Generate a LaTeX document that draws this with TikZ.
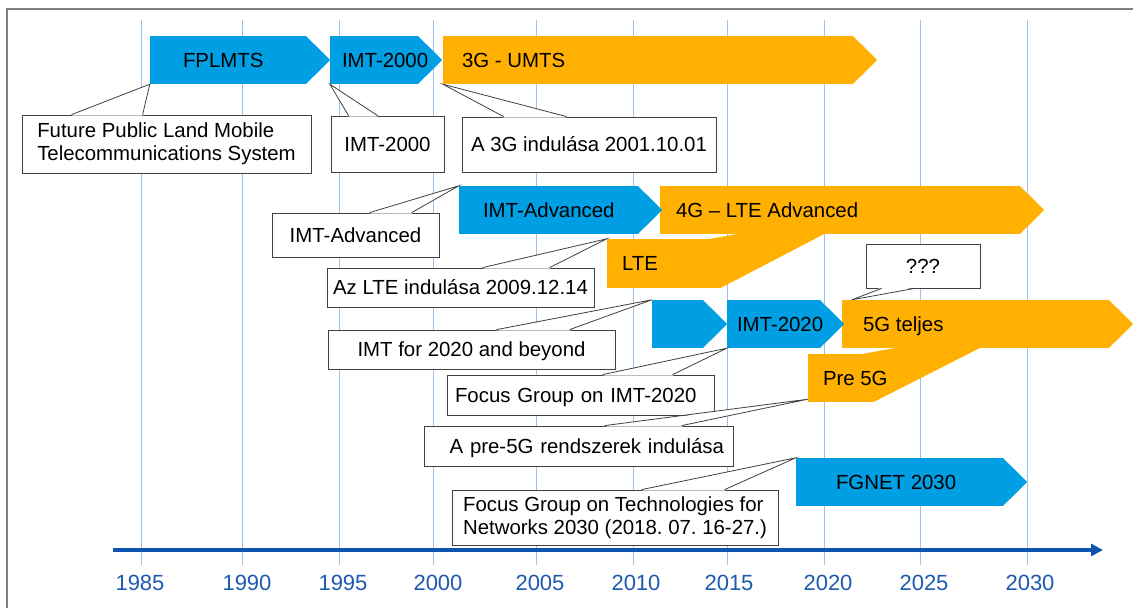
\documentclass[tikz,border=0pt]{standalone}
\usepackage{fontspec}
\setmainfont{Liberation Sans}
\usetikzlibrary{positioning,arrows.meta}

\definecolor{itublue}{RGB}{0,158,226}
\definecolor{umtsorange}{RGB}{255,176,0}
\definecolor{axisblue}{RGB}{12,84,176}
\definecolor{gridblue}{RGB}{157,195,230}
\definecolor{yearblue}{RGB}{30,90,175}
\definecolor{framegray}{RGB}{128,128,128}
\definecolor{calloutline}{RGB}{64,64,64}

\tikzset{
  bluebar/.style={fill=itublue, inner sep=0pt, minimum height=48pt},
  orangebar/.style={fill=umtsorange, inner sep=0pt, minimum height=48pt},
  barlabel/.style={inner sep=0pt, font=\fontsize{20.4}{23}\selectfont, text height=14.5pt, text depth=0pt},
  callout/.style={draw=calloutline, line width=0.8pt, fill=white, inner sep=0pt, font=\fontsize{20.4}{23}\selectfont},
  oneline/.style={text height=14.5pt, text depth=0pt},
  wedge/.style={draw=calloutline, line width=0.8pt},
  gridline/.style={draw=gridblue, line width=1pt},
  axisline/.style={draw=axisblue, line width=4pt, -{Triangle[length=12pt,width=12pt]}},
  yearlabel/.style={text=yearblue, font=\fontsize{22}{24}\selectfont, text height=15.8pt, text depth=0pt, inner sep=0pt},
  frameline/.style={draw=framegray, line width=1.5pt},
}

\begin{document}
\frenchspacing
\begin{tikzpicture}[x=1pt, y=-1pt]
  \useasboundingbox (0,0) rectangle (1133,608);
  \draw[frameline] (7,608) -- (7,9) -- (1133,9);

  % years
  \foreach \yr/\gx/\lx in {1985/141/140, 1990/242/247, 1995/339/343, 2000/433/438, 2005/536/540,
      2010/633/636, 2015/727/729, 2020/824/828, 2025/920/924, 2030/1027/1030} {
    \draw[gridline] (\gx,20) -- (\gx,565);
    \node[yearlabel] (y\yr) at (\lx,583) {\yr};
  }
  \coordinate (axis-start) at (113,550);
  \coordinate (axis-end) at (1103,550);
  \draw[axisline] (axis-start) -- (axis-end);

  % 3G
  \node[bluebar, minimum width=156pt] (fplmts) at (228,60) {};
  \node[bluebar, minimum width=88pt] (imt) at (374,60) {};
  \node[orangebar, minimum width=410pt] (umts) at (648,60) {};

  % 4G
  \node[bluebar, minimum width=179pt] (adv) at (548.5,210) {};
  \node[orangebar, minimum width=113pt, minimum height=49pt] (lte) at (663.5,263.5) {};
  \coordinate (lte-tip) at (870,210);
  \fill[umtsorange] ([xshift=-10pt]lte.north east) -- (lte-tip) -- (lte.south east) -- cycle;
  \node[orangebar, minimum width=360pt] (lteadv) at (840,210) {};

  % 5G
  \node[bluebar, minimum width=51pt] (pre2020) at (677.5,324) {};
  \node[bluebar, minimum width=93pt] (imt2020) at (773.5,324) {};
  \node[orangebar, minimum width=65pt] (pre5g) at (840.5,378) {};
  \coordinate (pre5g-tip) at (1027,324);
  \fill[umtsorange] ([xshift=-10pt]pre5g.north east) -- (pre5g-tip) -- (pre5g.south east) -- cycle;
  \node[orangebar, minimum width=267pt] (full5g) at (975.5,324) {};
  \node[bluebar, minimum width=207pt] (fgnet) at (899.5,482) {};

  \foreach \n/\c in {fplmts/itublue, imt/itublue, umts/umtsorange, adv/itublue, lteadv/umtsorange,
      pre2020/itublue, imt2020/itublue, full5g/umtsorange, fgnet/itublue}
    \fill[\c] ([xshift=-0.5pt]\n.north east) -- ([xshift=24pt]\n.east) -- ([xshift=-0.5pt]\n.south east) -- cycle;

  \node[barlabel, right=33pt of fplmts.west] (fplmts-l) {FPLMTS};
  \node[barlabel, right=12pt of imt.west] (imt-l) {IMT-2000};
  \node[barlabel, right=19pt of umts.west] (umts-l) {3G - UMTS};
  \node[barlabel, right=24pt of adv.west] (adv-l) {IMT-Advanced};
  \node[barlabel, right=16pt of lteadv.west] (lteadv-l) {4G -- LTE Advanced};
  \node[barlabel, right=15pt of lte.west] (lte-l) {LTE};
  \node[barlabel, right=10pt of imt2020.west] (imt2020-l) {IMT-2020};
  \node[barlabel, right=21pt of full5g.west] (full5g-l) {5G teljes};
  \node[barlabel, right=15pt of pre5g.west] (pre5g-l) {Pre 5G};
  \node[barlabel, right=40pt of fgnet.west] (fgnet-l) {FGNET 2030};

  % callouts
  \node[callout, align=left, minimum width=289pt, minimum height=58pt] (fplmts-c) at (166.5,144)
    {Future Public Land Mobile\\Telecommunications System};
  \node[callout, oneline, minimum width=113pt, minimum height=56pt] (imt-c) at (387.5,144) {IMT-2000};
  \node[callout, oneline, minimum width=254pt, minimum height=55pt] (umts-c) at (589,144.5) {A 3G indulása 2001.10.01};
  \node[callout, oneline, minimum width=167pt, minimum height=44pt] (adv-c) at (355.5,235) {IMT-Advanced};
  \node[callout, oneline, minimum width=267pt, minimum height=39pt] (lte-c) at (460.5,287.5) {Az LTE indulása 2009.12.14};
  \node[callout, oneline, minimum width=287pt, minimum height=39pt] (pre2020-c) at (471.5,349.5) {IMT for 2020 and beyond};
  \node[callout, oneline, align=left, text width=251pt, minimum width=267pt, minimum height=40pt] (imt2020-c) at (580.5,395) {Focus Group on IMT-2020};
  \node[callout, oneline, align=right, text width=291pt, minimum width=309pt, minimum height=40pt] (pre5g-c) at (578.5,446) {A pre-5G rendszerek indulása};
  \node[callout, align=left, minimum width=326pt, minimum height=55pt] (fgnet-c) at (615,517.5)
    {Focus Group on Technologies for\\Networks 2030 (2018. 07. 16-27.)};
  \node[callout, oneline, minimum width=114pt, minimum height=44pt] (full5g-c) at (923,266) {???};

  \coordinate (pre5g-pin) at ([yshift=3pt]pre5g.south west);
  \coordinate (full5g-pin) at ([xshift=10pt]full5g.north west);
  \foreach \c/\e/\s/\a/\b/\t in {
      fplmts-c/north west/-1/50/121/fplmts.south west,
      imt-c/north west/-1/18/47/imt.south west,
      umts-c/north west/-1/42/105/umts.south west,
      adv-c/north west/-1/98/140/adv.north west,
      lte-c/north west/-1/156/223/lte.north west,
      pre2020-c/north west/-1/169/242/pre2020.north west,
      imt2020-c/north west/-1/156/226/imt2020.south west,
      pre5g-c/north west/-1/181/258/pre5g-pin,
      fgnet-c/north west/-1/190/273/fgnet.north west,
      full5g-c/south west/1/16/49/full5g-pin} {
    \fill[white] ([xshift=\a pt, yshift=\s pt]\c.\e) -- (\t) -- ([xshift=\b pt, yshift=\s pt]\c.\e) -- cycle;
    \draw[wedge] ([xshift=\a pt]\c.\e) -- (\t) -- ([xshift=\b pt]\c.\e);
  }
\end{tikzpicture}
\end{document}
